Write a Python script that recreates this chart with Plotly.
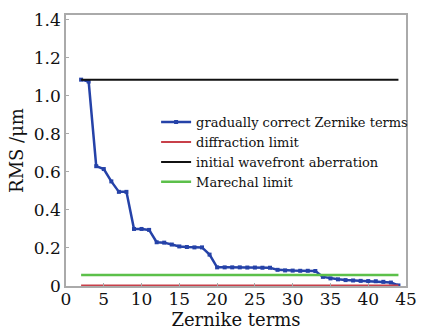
import plotly.graph_objects as go

terms = list(range(2, 45))
rms = [1.085, 1.075, 0.63, 0.615, 0.55, 0.495, 0.495, 0.30, 0.30, 0.295,
       0.23, 0.228, 0.218, 0.208, 0.205, 0.203, 0.203, 0.165,
       0.098, 0.098, 0.098, 0.098, 0.097, 0.097, 0.096, 0.096,
       0.085, 0.082, 0.081, 0.080, 0.080, 0.079,
       0.048, 0.040, 0.035, 0.031, 0.029, 0.027, 0.026, 0.025, 0.022, 0.018, 0.003]
diffraction_limit = 0.003
initial_aberration = 1.085
marechal_limit = 0.058
x_line = [2, 44]

ytick_vals = [0, 0.2, 0.4, 0.6, 0.8, 1.0, 1.2, 1.4]
ytick_text = ["0", "0.2", "0.4", "0.6", "0.8", "1.0", "1.2", "1.4"]
xtick_vals = [0, 5, 10, 15, 20, 25, 30, 35, 40, 45]

fig = go.Figure()
fig.add_trace(go.Scatter(x=terms, y=rms, mode="lines+markers",
                         name="gradually correct Zernike terms",
                         line=dict(color="#2542a8", width=2.5),
                         marker=dict(symbol="square", size=4, color="#2542a8")))
fig.add_trace(go.Scatter(x=x_line, y=[diffraction_limit]*2, mode="lines",
                         name="diffraction limit", line=dict(color="#c8404a", width=2)))
fig.add_trace(go.Scatter(x=x_line, y=[initial_aberration]*2, mode="lines",
                         name="initial wavefront aberration", line=dict(color="#111111", width=2)))
fig.add_trace(go.Scatter(x=x_line, y=[marechal_limit]*2, mode="lines",
                         name="Marechal limit", line=dict(color="#5cc04a", width=2.5)))

font = "DejaVu Serif"
fig.update_layout(
    width=424, height=333,
    margin=dict(l=66, r=11, t=15, b=45),
    paper_bgcolor="white", plot_bgcolor="white",
    font=dict(family=font, color="#111111"),
    legend=dict(x=0.265, y=0.66, xanchor="left", yanchor="top",
                bgcolor="rgba(0,0,0,0)", font=dict(size=13, family=font),
                tracegroupgap=0),
    xaxis=dict(range=[0, 45], tickvals=xtick_vals, showgrid=False, zeroline=False,
               showline=True, linecolor="#aaaaaa", linewidth=1.5, mirror=True,
               ticks="inside", ticklen=3, tickcolor="#aaaaaa", automargin="bottom",
               ticklabelstandoff=-3,
               tickfont=dict(size=17, family=font),
               title=dict(text="Zernike terms", font=dict(size=18, family=font), standoff=0)),
    yaxis=dict(range=[0, 1.425], tickvals=ytick_vals, ticktext=ytick_text,
               showgrid=False, zeroline=False,
               showline=True, linecolor="#aaaaaa", linewidth=1.5, mirror=True,
               ticks="inside", ticklen=3, tickcolor="#aaaaaa", automargin="left",
               tickfont=dict(size=17, family=font),
               title=dict(text="RMS /μm", font=dict(size=18, family=font), standoff=6)),
)
fig.write_html("out.html")
